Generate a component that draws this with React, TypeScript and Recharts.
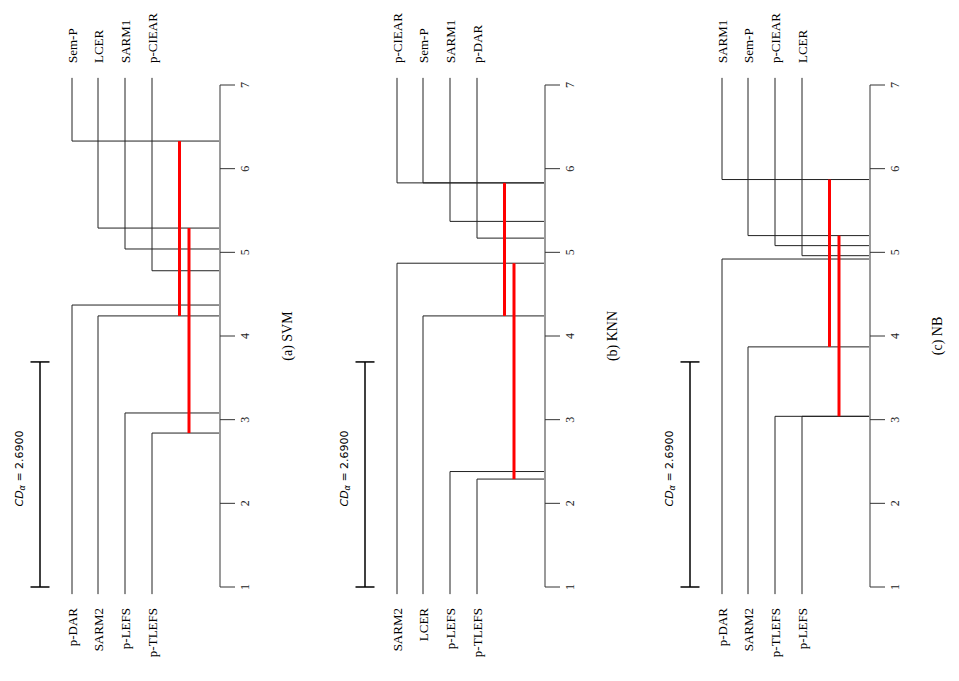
import React from "react";
import { ComposedChart, XAxis, YAxis, ReferenceLine, ReferenceDot } from "recharts";

const rankTicks = [1, 2, 3, 4, 5, 6, 7];
const cdValue = 2.69;

// lanes are pixel-ish offsets left of the rank axis
const laneOffsets = [-148, -122, -95, -68];
const cliqueLanes = [-40.5, -31];

const svmTopNames = ["Sem-P", "LCER", "SARM1", "p-CIEAR"];
const svmTopRanks = [6.33, 5.29, 5.04, 4.78];
const svmBottomNames = ["p-DAR", "SARM2", "p-LEFS", "p-TLEFS"];
const svmBottomRanks = [4.37, 4.24, 3.08, 2.84];
const svmCliques = [[6.33, 4.24], [5.29, 2.84]];

const knnTopNames = ["p-CIEAR", "Sem-P", "SARM1", "p-DAR"];
const knnTopRanks = [5.83, 5.83, 5.37, 5.17];
const knnBottomNames = ["SARM2", "LCER", "p-LEFS", "p-TLEFS"];
const knnBottomRanks = [4.87, 4.24, 2.38, 2.29];
const knnCliques = [[5.83, 4.24], [4.87, 2.29]];

const nbTopNames = ["SARM1", "Sem-P", "p-CIEAR", "LCER"];
const nbTopRanks = [5.87, 5.2, 5.08, 4.96];
const nbBottomNames = ["p-DAR", "SARM2", "p-TLEFS", "p-LEFS"];
const nbBottomRanks = [4.92, 3.87, 3.04, 3.04];
const nbCliques = [[5.87, 3.87], [5.2, 3.04]];

const serif = "'Liberation Serif', 'Times New Roman', serif";
const LINE = "#222";
const TOP_END = 7.085;
const BOTTOM_END = 0.915;

const renderTick = (props: any) => {
  const { x, y, payload } = props;
  const tx = x + 8;
  return (
    <text x={tx} y={y} transform={`rotate(-90 ${tx} ${y})`} textAnchor="middle"
      dominantBaseline="central" fontSize={12} fontFamily={serif} fill="#222">
      {payload.value}
    </text>
  );
};

const rotLabel = (text: string, dy: number, anchor: string, size = 13, extra: any = {}) =>
  (p: any) => {
    const x = p.cx;
    const y = p.cy + dy;
    return (
      <text x={x} y={y} transform={`rotate(-90 ${x} ${y})`} textAnchor={anchor}
        dominantBaseline="central" fontSize={size} fontFamily={serif} fill="#000" {...extra}>
        {text}
      </text>
    );
  };

const cdLabel = (p: any) => {
  const x = p.cx;
  const y = p.cy - 6;
  return (
    <text x={x} y={y} transform={`rotate(-90 ${x} ${y})`} textAnchor="middle"
      dominantBaseline="central" fontSize={11} fontFamily="'DejaVu Sans', sans-serif" fill="#000">
      <tspan fontStyle="italic">CD</tspan>
      <tspan fontStyle="italic" fontSize={8} dy={3}>α</tspan>
      <tspan dy={-3}> = {cdValue.toFixed(4)}</tspan>
    </text>
  );
};

function Panel({ left, caption, topNames, topRanks, bottomNames, bottomRanks, cliques }: any) {
  const elbows = (names: string[], ranks: number[], end: number) =>
    names.map((n, i) => (
      <React.Fragment key={n + end}>
        <ReferenceLine ifOverflow="visible" stroke={LINE} strokeWidth={1}
          segment={[{ x: laneOffsets[i], y: end }, { x: laneOffsets[i], y: ranks[i] }]} />
        <ReferenceLine ifOverflow="visible" stroke={LINE} strokeWidth={1}
          segment={[{ x: laneOffsets[i], y: ranks[i] }, { x: 0, y: ranks[i] }]} />
      </React.Fragment>
    ));

  return (
    <div style={{ position: "absolute", left, top: 0 }}>
      <ComposedChart width={305} height={681} data={[]}
        margin={{ top: 85, right: 5, bottom: 94, left: 20 }}>
        <XAxis type="number" dataKey="x" domain={[-200, 0]} hide allowDataOverflow />
        <YAxis type="number" domain={[1, 7]} ticks={rankTicks} interval={0}
          orientation="right" width={80} allowDataOverflow tickSize={15}
          axisLine={{ stroke: "#9a9a9a", strokeWidth: 2 }} tickLine={{ stroke: "#333" }}
          tick={renderTick} />

        {elbows(topNames, topRanks, TOP_END)}
        {elbows(bottomNames, bottomRanks, BOTTOM_END)}

        {cliques.map((c: number[], i: number) => (
          <ReferenceLine key={"c" + i} ifOverflow="visible" stroke="#ff0000" strokeWidth={3}
            segment={[{ x: cliqueLanes[i], y: c[0] }, { x: cliqueLanes[i], y: c[1] }]} />
        ))}

        <ReferenceLine ifOverflow="visible" stroke="#000" strokeWidth={1.5}
          segment={[{ x: -180, y: 1 }, { x: -180, y: 1 + cdValue }]} />
        <ReferenceLine ifOverflow="visible" stroke="#000" strokeWidth={1.5}
          segment={[{ x: -189.5, y: 1 }, { x: -170.5, y: 1 }]} />
        <ReferenceLine ifOverflow="visible" stroke="#000" strokeWidth={1.5}
          segment={[{ x: -189.5, y: 1 + cdValue }, { x: -170.5, y: 1 + cdValue }]} />
        <ReferenceDot x={-201} y={1 + cdValue / 2} r={0} ifOverflow="visible" shape={cdLabel} />

        {topNames.map((n: string, i: number) => (
          <ReferenceDot key={"t" + n} x={laneOffsets[i]} y={7} r={0} ifOverflow="visible"
            shape={rotLabel(n, -22, "start")} />
        ))}
        {bottomNames.map((n: string, i: number) => (
          <ReferenceDot key={"b" + n} x={laneOffsets[i]} y={1} r={0} ifOverflow="visible"
            shape={rotLabel(n, 21, "end")} />
        ))}

        <ReferenceDot x={67.5} y={4} r={0} ifOverflow="visible"
          shape={rotLabel(caption, 0, "middle", 14)} />
      </ComposedChart>
    </div>
  );
}

export default function App() {
  return (
    <div style={{ position: "absolute", left: 0, top: 0, width: 959, height: 681, overflow: "hidden", background: "#fff" }}>
      <Panel left={0} caption="(a) SVM" topNames={svmTopNames} topRanks={svmTopRanks}
        bottomNames={svmBottomNames} bottomRanks={svmBottomRanks} cliques={svmCliques} />
      <Panel left={325} caption="(b) KNN" topNames={knnTopNames} topRanks={knnTopRanks}
        bottomNames={knnBottomNames} bottomRanks={knnBottomRanks} cliques={knnCliques} />
      <Panel left={650} caption="(c) NB" topNames={nbTopNames} topRanks={nbTopRanks}
        bottomNames={nbBottomNames} bottomRanks={nbBottomRanks} cliques={nbCliques} />
    </div>
  );
}
